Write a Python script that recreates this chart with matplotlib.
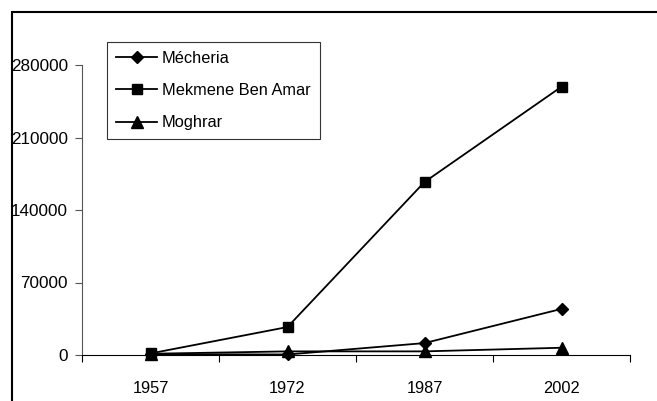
import matplotlib
matplotlib.use("Agg")
import matplotlib.pyplot as plt
from matplotlib.patches import Rectangle

years = ["1957", "1972", "1987", "2002"]
mecheria = [800, 500, 11500, 44500]
mekmene = [1500, 27000, 167000, 259000]
moghrar = [1200, 3500, 3500, 7000]
yticks = [0, 70000, 140000, 210000, 280000]

plt.rcParams['font.family'] = ['Liberation Sans', 'DejaVu Sans']

fig = plt.figure(figsize=(6.57, 4.01), dpi=100)
W, H = 657, 401
ax = fig.add_axes([82 / W, 1 - 355 / H, (630 - 82) / W, (355 - 65) / H])

x = list(range(len(years)))
ax.plot(x, mecheria, color='black', lw=1.3, marker='D', ms=6.5, label='Mécheria', clip_on=False, zorder=3)
ax.plot(x, mekmene, color='black', lw=1.3, marker='s', ms=7, label='Mekmene Ben Amar', clip_on=False, zorder=3)
ax.plot(x, moghrar, color='black', lw=1.3, marker='^', ms=8, label='Moghrar', clip_on=False, zorder=3)

ax.set_xlim(-0.5, len(years) - 0.5)
ax.set_ylim(0, 280000)
ax.set_yticks(yticks)
ax.set_yticklabels([str(v) for v in yticks], fontsize=12.3)
ax.set_xticks(x)
ax.set_xticklabels(years, fontsize=11.8)
ax.tick_params(axis='x', length=0, pad=19)
ax.set_xticks([i - 0.5 for i in range(len(years) + 1)], minor=True)
ax.tick_params(axis='x', which='minor', length=5, direction='out', color='black', width=0.8)
ax.tick_params(axis='y', length=5, direction='out', color='#555555', width=0.8, pad=5)
for s in ['top', 'right']:
    ax.spines[s].set_visible(False)
ax.spines['left'].set_color('#555555')
ax.spines['left'].set_linewidth(0.8)
ax.spines['bottom'].set_color('black')
ax.spines['bottom'].set_linewidth(0.8)

leg = ax.legend(loc='upper left', bbox_to_anchor=(107 / W, 1 - 42 / H), bbox_transform=fig.transFigure,
                fancybox=False, frameon=True, edgecolor='black', fontsize=11.8,
                labelspacing=1.05, handlelength=2.5, handletextpad=0.3, borderpad=0.55,
                borderaxespad=0)
leg.get_frame().set_linewidth(0.8)

fig.patches.append(Rectangle((12 / W, -0.1), 1.2, 1 - 12 / H + 0.1, transform=fig.transFigure,
                             fill=False, edgecolor='black', lw=1.5))

fig.savefig("out.png", dpi=100)
